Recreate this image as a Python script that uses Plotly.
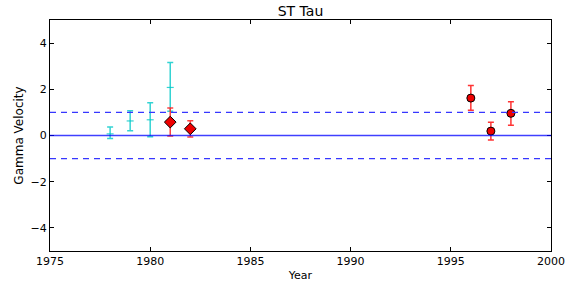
import plotly.graph_objects as go

cyan_years = [1978, 1979, 1980, 1981]
cyan_vals = [0.07, 0.63, 0.68, 2.08]
cyan_err_up = [0.30, 0.44, 0.74, 1.08]
cyan_err_dn = [0.20, 0.42, 0.73, 1.03]

dia_years = [1981, 1982]
dia_vals = [0.58, 0.29]
dia_err_up = [0.61, 0.35]
dia_err_dn = [0.60, 0.35]

circ_years = [1996, 1997, 1998]
circ_vals = [1.62, 0.19, 0.96]
circ_err_up = [0.54, 0.38, 0.50]
circ_err_dn = [0.53, 0.38, 0.52]

ref_levels = [0, 1, -1]

fig = go.Figure()

fig.add_hline(y=ref_levels[0], line=dict(color="rgba(0,0,255,0.75)", width=1.3))
for lv in ref_levels[1:]:
    fig.add_hline(y=lv, line=dict(color="rgb(55,55,255)", width=1.4, dash="6px,5px"))

fig.add_trace(go.Scatter(
    x=cyan_years, y=cyan_vals, mode="markers",
    marker=dict(symbol="line-ew", size=5, line=dict(color="rgba(0,200,200,0.8)", width=1.2)),
    error_y=dict(type="data", array=cyan_err_up, arrayminus=cyan_err_dn, symmetric=False,
                 color="rgba(0,200,200,0.8)", thickness=1.5, width=3),
    showlegend=False))

fig.add_trace(go.Scatter(
    x=dia_years, y=dia_vals, mode="markers",
    marker=dict(symbol="diamond", size=9, color="#ee0000", line=dict(color="black", width=1)),
    error_y=dict(type="data", array=dia_err_up, arrayminus=dia_err_dn, symmetric=False,
                 color="rgba(255,30,30,0.85)", thickness=1.5, width=3),
    showlegend=False))

fig.add_trace(go.Scatter(
    x=circ_years, y=circ_vals, mode="markers",
    marker=dict(symbol="circle", size=8, color="#ee0000", line=dict(color="black", width=1)),
    error_y=dict(type="data", array=circ_err_up, arrayminus=circ_err_dn, symmetric=False,
                 color="rgba(255,30,30,0.9)", thickness=1.5, width=3),
    showlegend=False))

axis_common = dict(showgrid=False, zeroline=False, showline=True, linecolor="black",
                   linewidth=1, mirror="allticks", ticks="inside", ticklen=4,
                   tickcolor="black", tickfont=dict(size=11, color="black"),
                   automargin=False)

fig.update_xaxes(range=[1975, 2000], tickvals=[1975, 1980, 1985, 1990, 1995, 2000],
                 title=dict(text="Year", font=dict(size=11, color="black"), standoff=4),
                 **axis_common)
fig.update_yaxes(range=[-5, 5], tickvals=[-4, -2, 0, 2, 4],
                 ticktext=["\u22124", "\u22122", "0", "2", "4"],
                 title=dict(text="Gamma Velocity", font=dict(size=12, color="black"), standoff=4),
                 **axis_common)

fig.update_layout(
    width=582, height=288,
    margin=dict(l=50, r=31, t=20, b=37, autoexpand=False),
    paper_bgcolor="white", plot_bgcolor="white",
    font=dict(family="DejaVu Sans", color="black"),
    title=dict(text="ST Tau", x=0.5, xref="paper", xanchor="center",
               y=1 - 11 / 288, yref="container", yanchor="middle",
               font=dict(size=14, color="black")),
)

fig.write_html("out.html", config={"displayModeBar": False},
               post_script="document.body.style.margin='0px';document.body.style.overflow='hidden';")
